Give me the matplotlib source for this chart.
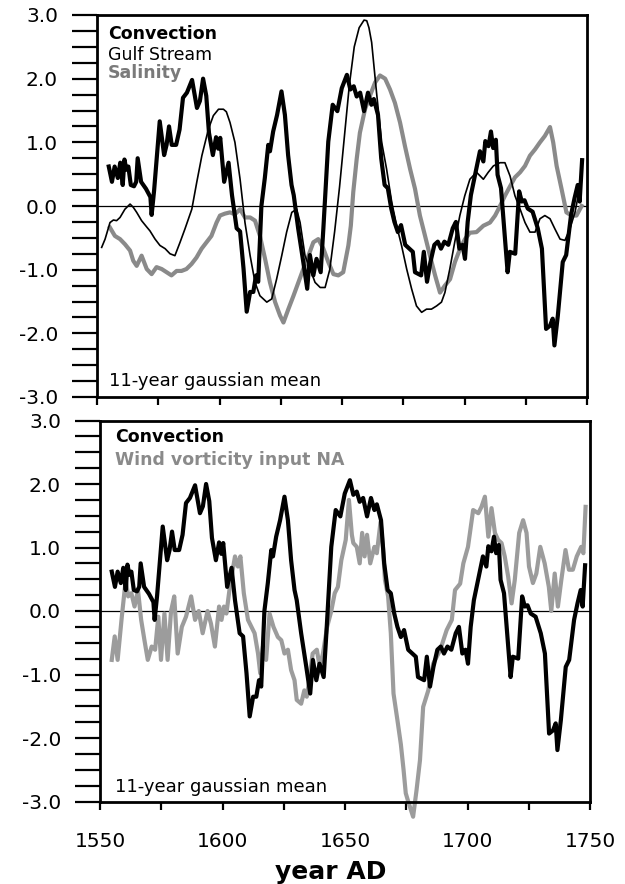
import numpy as np
import matplotlib
matplotlib.use("Agg")
import matplotlib.pyplot as plt
from matplotlib.ticker import MultipleLocator, FixedLocator, FixedFormatter

plt.rcParams['font.family'] = ['DejaVu Sans']

# Convection index (same series in both panels)
conv_year = [1554.8, 1556.1, 1557.2, 1558.5, 1559.5, 1560.5, 1561.2, 1562.0, 1562.8, 1563.8,
             1565.1, 1566.0, 1566.6, 1568.0, 1570.0, 1571.8, 1572.3, 1573.3, 1575.6, 1577.4,
             1578.4, 1579.4, 1580.5, 1582.3, 1583.7, 1585.1, 1586.7, 1588.8, 1590.8, 1592.0,
             1593.3, 1594.6, 1595.7, 1597.3, 1598.6, 1599.5, 1600.3, 1601.9, 1603.7, 1605.1,
             1607.0, 1608.4, 1609.8, 1611.1, 1612.5, 1613.8, 1614.9, 1615.8, 1617.1, 1618.5,
             1619.9, 1620.6, 1621.9, 1623.5, 1625.3, 1626.7, 1628.0, 1629.4, 1630.3, 1632.1,
             1634.2, 1635.8, 1636.9, 1638.3, 1639.6, 1641.3, 1642.4, 1644.4, 1646.2, 1648.1,
             1649.9, 1652.0, 1653.4, 1654.8, 1656.0, 1657.4, 1659.0, 1660.6, 1662.0, 1663.0,
             1664.7, 1666.0, 1667.4, 1668.7, 1670.1, 1671.4, 1672.8, 1674.1, 1675.8, 1677.5,
             1678.9, 1679.8, 1682.3, 1683.4, 1684.7, 1686.1, 1687.7, 1689.1, 1690.4, 1691.8,
             1693.4, 1695.2, 1696.5, 1697.9, 1699.2, 1700.2, 1701.3, 1702.6, 1704.6, 1706.3,
             1707.7, 1708.5, 1709.8, 1710.8, 1711.7, 1712.8, 1713.5, 1714.9, 1716.2, 1717.6,
             1718.5, 1720.7, 1722.3, 1723.4, 1724.5, 1725.8, 1727.8, 1729.9, 1731.6, 1733.3,
             1734.9, 1736.0, 1736.7, 1738.1, 1740.1, 1741.5, 1743.5, 1744.9, 1746.2, 1747.0,
             1748.0]
conv_val = [0.62, 0.38, 0.62, 0.44, 0.68, 0.33, 0.73, 0.57, 0.62, 0.33,
            0.31, 0.38, 0.75, 0.38, 0.27, 0.14, -0.14, 0.24, 1.33, 0.80,
            0.96, 1.25, 0.96, 0.96, 1.20, 1.70, 1.78, 1.98, 1.54, 1.65,
            2.00, 1.73, 1.15, 0.80, 1.08, 0.90, 1.07, 0.38, 0.68, 0.17,
            -0.35, -0.40, -0.98, -1.66, -1.35, -1.35, -1.09, -1.19, 0.00, 0.44,
            0.96, 0.86, 1.17, 1.43, 1.80, 1.43, 0.80, 0.33, 0.17, -0.35,
            -0.88, -1.30, -0.77, -1.09, -0.83, -1.04, -0.35, 1.01, 1.59, 1.49,
            1.85, 2.06, 1.83, 1.88, 1.72, 1.78, 1.49, 1.78, 1.59, 1.68,
            1.43, 0.75, 0.33, 0.28, -0.04, -0.25, -0.41, -0.30, -0.61, -0.67,
            -0.72, -1.04, -1.09, -0.72, -1.19, -0.88, -0.61, -0.56, -0.67, -0.56,
            -0.61, -0.35, -0.25, -0.67, -0.61, -0.83, -0.25, 0.17, 0.54, 0.86,
            0.70, 1.02, 0.94, 1.17, 0.91, 1.04, 0.49, 0.28, -0.35, -1.04,
            -0.72, -0.75, 0.23, 0.07, 0.09, -0.04, -0.09, -0.35, -0.67, -1.93,
            -1.88, -1.77, -2.19, -1.72, -0.88, -0.77, -0.14, 0.12, 0.33, 0.07,
            0.72]

# Gulf Stream (thin black, top panel)
gulf_year = [1551.9, 1553.3, 1555.3, 1556.7, 1558.0, 1559.4, 1561.4, 1563.5, 1564.8, 1566.2,
             1568.2, 1570.3, 1571.6, 1573.7, 1575.7, 1577.8, 1579.8, 1581.8, 1583.9, 1585.9,
             1588.7, 1590.7, 1592.8, 1595.5, 1597.5, 1599.6, 1601.6, 1602.8, 1604.3, 1606.3,
             1608.4, 1610.4, 1612.5, 1614.5, 1616.5, 1619.3, 1621.3, 1623.3, 1625.4, 1627.4,
             1629.5, 1631.5, 1632.9, 1634.9, 1637.0, 1639.0, 1641.1, 1643.1, 1645.0, 1647.0,
             1649.0, 1651.0, 1653.0, 1655.0, 1657.0, 1659.0, 1660.1, 1661.0, 1662.1, 1664.1,
             1666.2, 1668.2, 1670.3, 1672.3, 1674.3, 1676.4, 1678.4, 1680.4, 1682.5, 1684.5,
             1686.5, 1688.6, 1690.6, 1692.0, 1694.0, 1696.0, 1698.1, 1700.1, 1702.2, 1704.9,
             1707.7, 1709.7, 1711.8, 1714.5, 1716.5, 1718.6, 1720.6, 1722.7, 1724.7, 1726.7,
             1728.8, 1730.8, 1732.8, 1734.9, 1736.9, 1739.0, 1741.0, 1743.0, 1745.1, 1746.4,
             1747.8]
gulf_val = [-0.65, -0.52, -0.26, -0.22, -0.23, -0.18, -0.05, 0.03, -0.02, -0.10,
            -0.23, -0.33, -0.39, -0.52, -0.62, -0.67, -0.75, -0.78, -0.57, -0.36,
            -0.05, 0.37, 0.79, 1.21, 1.42, 1.52, 1.52, 1.48, 1.31, 1.00,
            0.42, -0.26, -0.78, -1.20, -1.41, -1.51, -1.46, -1.15, -0.78, -0.41,
            -0.10, -0.05, -0.26, -0.78, -0.99, -1.20, -1.28, -1.28, -1.00, -0.40,
            0.30, 1.10, 1.90, 2.50, 2.80, 2.92, 2.91, 2.80, 2.57, 1.78,
            1.00, 0.58, 0.06, -0.31, -0.62, -0.99, -1.30, -1.57, -1.67, -1.62,
            -1.62, -1.57, -1.51, -1.36, -0.99, -0.57, -0.15, 0.16, 0.42, 0.53,
            0.42, 0.53, 0.63, 0.68, 0.68, 0.47, 0.16, -0.05, -0.26, -0.41,
            -0.41, -0.20, -0.15, -0.20, -0.36, -0.52, -0.54, -0.36, -0.10, 0.16,
            0.58]

# Salinity (thick grey, top panel)
sal_year = [1555.3, 1557.3, 1559.4, 1561.4, 1563.5, 1564.8, 1566.2, 1568.2, 1570.3, 1572.3,
            1574.3, 1576.4, 1578.4, 1580.4, 1582.5, 1584.5, 1586.5, 1588.6, 1590.6, 1592.7,
            1594.7, 1596.7, 1598.8, 1600.2, 1602.2, 1604.3, 1606.3, 1608.4, 1610.4, 1612.5,
            1614.5, 1616.5, 1618.6, 1620.6, 1622.7, 1624.7, 1626.1, 1628.1, 1630.2, 1632.2,
            1634.2, 1636.3, 1638.3, 1640.3, 1642.4, 1644.4, 1646.5, 1648.5, 1650.5, 1652.6,
            1653.6, 1654.6, 1656.0, 1657.3, 1659.4, 1661.4, 1663.5, 1665.5, 1667.6, 1669.6,
            1671.6, 1673.7, 1675.7, 1677.8, 1679.8, 1681.8, 1683.9, 1685.9, 1688.0, 1690.0,
            1692.0, 1694.1, 1696.1, 1698.2, 1700.2, 1702.2, 1704.9, 1707.7, 1710.4, 1712.5,
            1714.5, 1716.5, 1718.6, 1720.6, 1722.7, 1724.7, 1726.7, 1728.8, 1730.8, 1732.8,
            1734.9, 1736.2, 1737.6, 1739.6, 1741.6, 1743.7, 1745.7, 1747.8]
sal_val = [-0.34, -0.47, -0.52, -0.60, -0.70, -0.86, -0.94, -0.78, -0.99, -1.07,
           -0.96, -0.99, -1.04, -1.09, -1.02, -1.02, -0.99, -0.91, -0.81, -0.67,
           -0.57, -0.47, -0.26, -0.15, -0.12, -0.10, -0.13, -0.05, -0.18, -0.18,
           -0.23, -0.47, -0.83, -1.20, -1.51, -1.72, -1.83, -1.62, -1.41, -1.20,
           -0.99, -0.78, -0.57, -0.52, -0.67, -0.88, -1.07, -1.09, -1.04, -0.62,
           -0.31, 0.22, 0.74, 1.15, 1.52, 1.73, 1.94, 2.05, 2.00, 1.83,
           1.62, 1.31, 0.94, 0.58, 0.27, -0.15, -0.47, -0.78, -1.09, -1.36,
           -1.25, -1.15, -0.88, -0.67, -0.52, -0.42, -0.41, -0.31, -0.26, -0.15,
           0.00, 0.16, 0.31, 0.45, 0.53, 0.63, 0.79, 0.89, 1.00, 1.10,
           1.24, 1.00, 0.63, 0.27, -0.10, -0.15, -0.15, 0.00]

# Wind vorticity input NA (grey, bottom panel)
wind_year = [1554.8, 1556.0, 1557.2, 1558.9, 1560.5, 1561.5, 1562.8, 1564.1, 1565.5, 1566.8,
             1568.1, 1569.5, 1571.1, 1572.5, 1573.8, 1574.9, 1576.3, 1577.6, 1579.0, 1580.3,
             1581.7, 1583.4, 1585.1, 1587.2, 1588.8, 1590.3, 1591.9, 1593.9, 1595.3, 1596.9,
             1598.6, 1599.6, 1600.6, 1601.6, 1603.0, 1605.1, 1606.3, 1607.3, 1608.7, 1610.4,
             1611.8, 1613.1, 1614.5, 1615.4, 1616.5, 1617.8, 1619.2, 1620.8, 1622.6, 1624.0,
             1625.3, 1626.7, 1628.0, 1629.4, 1630.3, 1632.1, 1633.4, 1634.4, 1635.4, 1636.8,
             1638.5, 1639.7, 1641.0, 1642.7, 1644.4, 1645.8, 1647.1, 1648.5, 1650.3, 1651.6,
             1652.8, 1653.4, 1654.8, 1656.0, 1657.0, 1658.0, 1659.0, 1660.3, 1662.0, 1663.0,
             1664.5, 1665.5, 1666.3, 1667.6, 1668.7, 1669.8, 1671.4, 1672.8, 1673.9, 1674.8,
             1675.8, 1677.8, 1679.2, 1680.6, 1681.9, 1684.0, 1686.0, 1688.8, 1691.5, 1693.6,
             1694.9, 1697.0, 1698.3, 1700.2, 1702.3, 1704.4, 1705.7, 1707.1, 1708.5, 1709.8,
             1711.2, 1712.5, 1713.9, 1715.2, 1716.6, 1718.0, 1719.3, 1721.1, 1722.7, 1724.1,
             1725.1, 1726.7, 1728.1, 1729.7, 1731.5, 1733.2, 1734.2, 1735.6, 1736.9, 1738.3,
             1740.0, 1741.4, 1743.0, 1744.6, 1746.4, 1747.3, 1748.2]
wind_val = [-0.77, -0.40, -0.77, -0.09, 0.49, 0.23, 0.28, 0.07, 0.33, -0.14,
            -0.45, -0.77, -0.56, -0.61, -0.09, -0.77, -0.04, -0.77, 0.00, 0.23,
            -0.67, -0.25, -0.09, 0.23, -0.14, 0.00, -0.35, 0.00, -0.20, -0.56,
            0.07, -0.14, 0.07, -0.04, 0.38, 0.86, 0.70, 0.86, 0.28, -0.14,
            -0.25, -0.35, -0.67, -0.98, -0.56, -0.77, -0.04, -0.25, -0.41, -0.46,
            -0.67, -0.61, -0.93, -1.09, -1.40, -1.46, -1.25, -1.35, -1.09, -0.67,
            -0.61, -0.88, -0.67, -0.25, 0.00, 0.28, 0.38, 0.80, 1.12, 1.75,
            1.20, 1.07, 1.01, 0.75, 1.23, 0.86, 1.20, 0.75, 1.01, 0.91,
            1.40, 1.00, 0.49, 0.23, -0.35, -1.30, -1.72, -2.10, -2.50, -2.87,
            -3.00, -3.24, -2.82, -2.35, -1.51, -1.25, -0.83, -0.62, -0.30, -0.14,
            0.33, 0.43, 0.75, 1.01, 1.59, 1.54, 1.64, 1.80, 1.17, 1.62,
            1.23, 1.12, 1.07, 0.86, 0.54, 0.12, 0.49, 1.23, 1.43, 1.23,
            0.70, 0.44, 0.59, 1.01, 0.75, 0.38, 0.00, 0.59, 0.07, 0.49,
            0.96, 0.65, 0.65, 0.86, 1.01, 0.91, 1.64]

ytick_vals = [-3, -2, -1, 0, 1, 2, 3]
ytick_labels = ["-3.0", "-2.0", "-1.0", "0.0", "1.0", "2.0", "3.0"]
xtick_vals = [1550, 1600, 1650, 1700, 1750]

W, H = 625, 884
fig = plt.figure(figsize=(W / 100, H / 100), dpi=100)
ax1 = fig.add_axes([97 / W, 1 - 397 / H, 490 / W, 382 / H])
ax2 = fig.add_axes([100 / W, 1 - 801.5 / H, 490 / W, 381 / H])

for ax in (ax1, ax2):
    ax.set_xlim(1550, 1750)
    ax.set_ylim(-3, 3)
    ax.axhline(0, color='black', lw=0.9, zorder=1)
    for s in ax.spines.values():
        s.set_linewidth(2.0)
    ax.yaxis.set_major_locator(FixedLocator(ytick_vals))
    ax.yaxis.set_major_formatter(FixedFormatter(ytick_labels))
    ax.yaxis.set_minor_locator(MultipleLocator(0.25))
    ax.tick_params(axis='y', which='both', direction='out', length=18, width=1.6,
                   pad=10, labelsize=14.5)
    ax.xaxis.set_major_locator(MultipleLocator(25))
    ax.tick_params(axis='x', which='major', direction='out', length=6, width=1.6,
                   labelsize=14.5, pad=16)

ax1.tick_params(axis='x', labelbottom=False)
ax2.xaxis.set_major_formatter(plt.FuncFormatter(
    lambda v, p: str(int(v)) if int(round(v)) in xtick_vals else ""))

# top panel
ax1.plot(sal_year, sal_val, color='#8a8a8a', lw=3.0, zorder=2)
ax1.plot(gulf_year, gulf_val, color='black', lw=1.2, zorder=3)
ax1.plot(conv_year, conv_val, color='black', lw=3.0, zorder=4)
ax1.text(1554.5, 2.62, "Convection", fontsize=12.5, fontweight='bold', color='black')
ax1.text(1554.5, 2.3, "Gulf Stream", fontsize=12.5, color='black')
ax1.text(1554.5, 2.01, "Salinity", fontsize=12.5, fontweight='bold', color='#7a7a7a')
ax1.text(1555, -2.82, "11-year gaussian mean", fontsize=13)

# bottom panel
ax2.plot(wind_year, wind_val, color='#9c9c9c', lw=3.0, zorder=2, clip_on=False)
ax2.plot(conv_year, conv_val, color='black', lw=3.0, zorder=4)
ax2.text(1556, 2.66, "Convection", fontsize=12.5, fontweight='bold', color='black')
ax2.text(1556, 2.3, "Wind vorticity input NA", fontsize=12.5, fontweight='bold',
         color='#8a8a8a')
ax2.text(1556, -2.85, "11-year gaussian mean", fontsize=13)

fig.text(331 / W, 1 - 872 / H, "year AD", fontsize=18, fontweight='bold',
         ha='center', va='center')

fig.savefig("out.png", dpi=100)
